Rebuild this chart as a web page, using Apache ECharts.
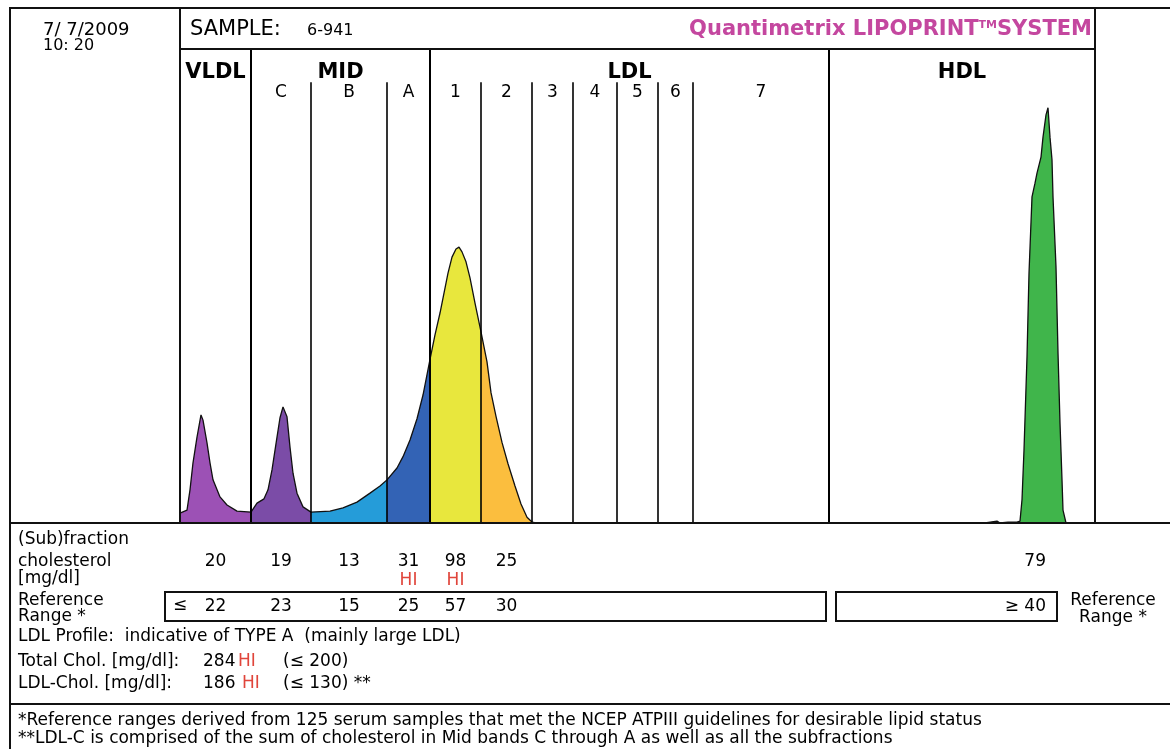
<!DOCTYPE html>
<html><head><meta charset="utf-8">
<script src="https://cdn.jsdelivr.net/npm/echarts@6/dist/echarts.min.js"></script>
<style>html,body{margin:0;padding:0;background:#fff}#c{width:1170px;height:749px}</style>
</head><body><div id="c"></div>
<script>
// ---------- data ----------
const bandNames   = ['VLDL','C','B','A','1','2','3','4','5','6','7','HDL'];
const bandEdges   = [0, 71, 131, 207, 250, 301, 352, 393, 437, 478, 513, 649, 915]; // migration units
const majorEdges  = [71, 250, 649];
const groupNames  = ['VLDL','MID','LDL','HDL'];
const groupRanges = [[0,71],[71,250],[250,649],[649,915]];
const bandColors  = ['#9c51b5','#7b4ca7','#259cd9','#3363b5','#e8e73d','#fbbe3e',null,null,null,null,null,'#40b54b'];

const profileX = [0,7,10,13,17,21,23,27,30,33,40,47,57,71,
  77,84,88,92,97,100,103,107,110,113,117,123,131,
  150,163,177,190,200,207,
  217,223,230,237,243,250,
  255,260,264,268,272,276,279,282,286,290,295,301,
  307,311,316,322,328,335,341,347,352,356,
  649,805,807,817,820,828,837,840,842,844,847,849,852,855,857,861,863,866,868,870,872,873,876,878,880,882,883,886,915];
const profileY = [2.1,2.7,7.0,12.7,18.1,22.8,21.7,16.9,12.7,9.1,5.5,3.8,2.5,2.3,
  4.2,5.1,7.0,11.2,18.1,22.2,24.5,22.4,16.0,10.5,6.3,3.4,2.3,
  2.5,3.2,4.4,6.3,7.8,9.1,
  11.6,14.0,17.5,22.0,27.0,34.5,
  39.7,44.3,48.5,52.7,56.1,57.8,58.2,57.2,55.1,51.7,46.4,40.3,
  34.0,27.5,22.5,17.0,12.5,7.8,4.0,1.2,0.2,0,
  0,0,0.4,0.4,0,0.2,0.2,0.4,4.9,15.4,35.0,52.7,68.8,71.7,73.8,77.2,81.4,86.1,87.6,81.4,76.6,68.8,54.0,35.9,21.1,9.1,2.7,0,0];

const valueBands     = [0, 1, 2, 3, 4, 5, 11];
const fractionValues = [20, 19, 13, 31, 98, 25, 79];
const fractionFlags  = ['', '', '', 'HI', 'HI', '', ''];
const referenceValues= [22, 23, 15, 25, 57, 30, 40];
const sampleDate = '7/ 7/2009', sampleTime = '10: 20', sampleId = '6-941';
const totalChol = 284, totalLimit = 200, ldlChol = 186, ldlLimit = 130;

// ---------- chart ----------
const FF = 'DejaVu Sans';
const chart = echarts.init(document.getElementById('c'));
const pts = profileX.map((x, i) => [x, profileY[i]]);
const series = [];
bandColors.forEach((c, i) => {
  if (!c) return;
  const lo = bandEdges[i], hi = bandEdges[i + 1];
  series.push({type:'line', data: pts.filter(p => p[0] >= lo && p[0] <= hi), symbol:'none',
    lineStyle:{width:0}, areaStyle:{color:c, opacity:1}, z:2, silent:true});
});
const inner = bandEdges.slice(1, -1);
series.push({type:'line', data: pts, symbol:'none', lineStyle:{color:'#111', width:1.3}, z:4, silent:true,
  markLine:{silent:true, symbol:['none','none'], label:{show:false},
    lineStyle:{color:'#000', type:'solid', width:2},
    data: majorEdges.map(e => [{coord:[e,0]},{coord:[e,100]}])}});
series.push({type:'line', data: pts, symbol:'none', lineStyle:{opacity:0, width:0}, z:4, silent:true,
  markLine:{silent:true, symbol:['none','none'], label:{show:false},
    lineStyle:{color:'#000', type:'solid', width:1.6},
    data: inner.filter(e => !majorEdges.includes(e)).map(e => [{coord:[e,0]},{coord:[e,93]}])}});

chart.setOption({
  animation:false,
  grid:{left:180, right:75, top:49, bottom:226},
  xAxis:{type:'value', min:0, max:915, show:false},
  yAxis:{type:'value', min:0, max:100, show:false},
  series
});

const px = x => chart.convertToPixel({xAxisIndex:0}, x);
const py = y => chart.convertToPixel({yAxisIndex:0}, y);
const G = [];
function T(text, x, y, o) {
  o = o || {};
  G.push({type:'text', x, y, z:10, silent:true, style:{text, fontFamily:FF, fontSize:o.size || 17,
    fontWeight:o.bold ? 'bold' : 'normal', fill:o.color || '#000',
    align:o.align || 'left', textAlign:o.align || 'left', verticalAlign:'middle', textVerticalAlign:'middle'}});
}
function L(x1, y1, x2, y2, w) {
  G.push({type:'line', z:9, silent:true, shape:{x1, y1, x2, y2}, style:{stroke:'#111', lineWidth:w || 2}});
}
function R(x, y, w, h) {
  G.push({type:'rect', z:9, silent:true, shape:{x, y, width:w, height:h}, style:{fill:'none', stroke:'#111', lineWidth:2}});
}
const bandCenter = i => (bandEdges[i] + bandEdges[i + 1]) / 2;
const xL = px(0), xR = px(915), yB = py(0), yT = py(100);

// frame
L(10, 8, 1170, 8); L(10, 7, 10, 749); L(xL, 7, xL, yB); L(xR, 7, xR, yB);
L(xL, yT, xR, yT); L(10, yB, 1170, yB); L(10, 704, 1170, 704);
R(165, 592, 661, 29); R(836, 592, 221, 29);

// header
T(sampleDate, 43, 30, {size:18});
T(sampleTime, 43, 46, {size:16});
T('SAMPLE:', 190, 30, {size:21});
T(sampleId, 307, 31, {size:16});
G.push({type:'text', x:1092, y:30, z:10, silent:true, style:{
  text:'{a|Quantimetrix LIPOPRINT}{s|TM}{a|SYSTEM}', align:'right', textAlign:'right', verticalAlign:'middle', textVerticalAlign:'middle',
  rich:{a:{fontFamily:FF, fontSize:21, fontWeight:'bold', fill:'#c4479f', color:'#c4479f'},
        s:{fontFamily:FF, fontSize:11, fontWeight:'bold', fill:'#c4479f', color:'#c4479f', verticalAlign:'top', align:'left'}}}});

// band labels
groupNames.forEach((g, i) => T(g, px((groupRanges[i][0] + groupRanges[i][1]) / 2), py(95.1), {bold:true, size:21, align:'center'}));
for (let i = 1; i <= 10; i++) T(bandNames[i], px(bandCenter(i)), py(90.9), {align:'center'});

// table
T('(Sub)fraction', 18, 540); T('cholesterol', 18, 562); T('[mg/dl]', 18, 579);
T('Reference', 18, 601); T('Range *', 18, 617);
fractionValues.forEach((v, k) => {
  const b = valueBands[k];
  if (bandNames[b] === 'HDL') { T(String(v), 1046, 562, {align:'right'}); }
  else {
    T(String(v), px(bandCenter(b)), 562, {align:'center'});
    if (fractionFlags[k]) T(fractionFlags[k], px(bandCenter(b)), 581, {align:'center', color:'#e0453b'});
  }
});
referenceValues.forEach((v, k) => {
  const b = valueBands[k];
  if (bandNames[b] === 'HDL') T('\u2265 ' + v, 1046, 607, {align:'right'});
  else T(String(v), px(bandCenter(b)), 607, {align:'center'});
});
T('\u2264', 173, 606);
T('Reference', 1113, 601, {align:'center'}); T('Range *', 1113, 618, {align:'center'});

T('LDL Profile:  indicative of TYPE A  (mainly large LDL)', 18, 637);
T('Total Chol. [mg/dl]:', 18, 662); T(String(totalChol), 203, 662); T('HI', 238, 662, {color:'#e0453b'}); T('(\u2264 ' + totalLimit + ')', 283, 662);
T('LDL-Chol. [mg/dl]:', 18, 684); T(String(ldlChol), 203, 684); T('HI', 242, 684, {color:'#e0453b'}); T('(\u2264 ' + ldlLimit + ') **', 283, 684);
T('*Reference ranges derived from 125 serum samples that met the NCEP ATPIII guidelines for desirable lipid status', 18, 721);
T('**LDL-C is comprised of the sum of cholesterol in Mid bands C through A as well as all the subfractions', 18, 739);

chart.setOption({graphic:{elements:G}});
</script></body></html>
